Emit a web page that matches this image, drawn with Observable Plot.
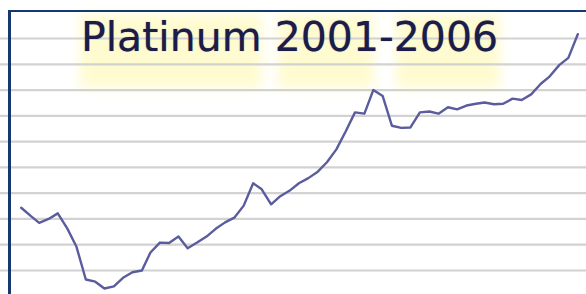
<!DOCTYPE html>
<html>
<head>
<meta charset="utf-8">
<script src="https://cdn.jsdelivr.net/npm/d3@7"></script>
<script src="https://cdn.jsdelivr.net/npm/@observablehq/plot@0.6"></script>
<style>
  html, body { margin: 0; padding: 0; background: #ffffff; }
  #wrap { position: relative; width: 586px; height: 294px; overflow: hidden; background: #fff; }
  .glow { position: absolute; background: rgba(255, 248, 170, 0.55); filter: blur(6px); }
  #chart { position: absolute; left: 0; top: 0; }
  #border { position: absolute; left: 8px; top: 10px; width: 600px; height: 300px;
            border-left: 3px solid #15396f; border-top: 2.5px solid #15396f; box-sizing: border-box; }
  #title { position: absolute; left: 81px; top: 13px; font-family: "DejaVu Sans", Verdana, sans-serif;
           font-size: 41px; color: #1b1c4a; white-space: nowrap;
           text-shadow: 0 0 1px rgba(27, 28, 74, 0.6); }
</style>
</head>
<body>
<div id="wrap">
  <div class="glow" style="left:80px; top:14px; width:182px; height:74px;"></div>
  <div class="glow" style="left:278px; top:14px; width:96px; height:74px;"></div>
  <div class="glow" style="left:396px; top:14px; width:104px; height:74px;"></div>
  <div id="chart"></div>
  <div id="border"></div>
  <div id="title">Platinum 2001-2006</div>
</div>
<script>
// Monthly platinum price (USD/oz), Jan 2001 onward
const startMonth = "2001-01-01";
const endMonth = "2006-01-01";
const prices = [
  596, 577, 561, 570, 583, 548, 506, 429, 424, 408, 413, 433,
  446, 450, 492, 515, 514, 529, 502, 515, 529, 547, 562, 573,
  601, 653, 639, 604, 623, 636, 653, 665, 680, 702, 732, 773,
  818, 815, 870, 856, 787, 782, 783, 818, 820, 815, 830, 825,
  834, 838, 841, 837, 838, 850, 847, 860, 884, 902, 928, 945,
  1000
];
const gridValues = [450, 510, 570, 630, 690, 750, 810, 870, 930, 990];

const start = new Date(startMonth);
const data = prices.map((v, i) => ({ date: d3.utcMonth.offset(start, i), price: v }));

const chart = Plot.plot({
  width: 586,
  height: 294,
  margin: 0,
  style: { background: "transparent" },
  x: { type: "utc", domain: [start, new Date(endMonth)], range: [20.7, 577.3], axis: null },
  y: { domain: [450, 990], range: [270, 38], axis: null },
  marks: [
    Plot.ruleY(gridValues, { stroke: "#d2d2d2", strokeWidth: 2.2 }),
    Plot.line(data, { x: "date", y: "price", stroke: "#5a5c9e", strokeWidth: 2.4, strokeLinejoin: "round" })
  ]
});
document.getElementById("chart").appendChild(chart);
</script>
</body>
</html>
